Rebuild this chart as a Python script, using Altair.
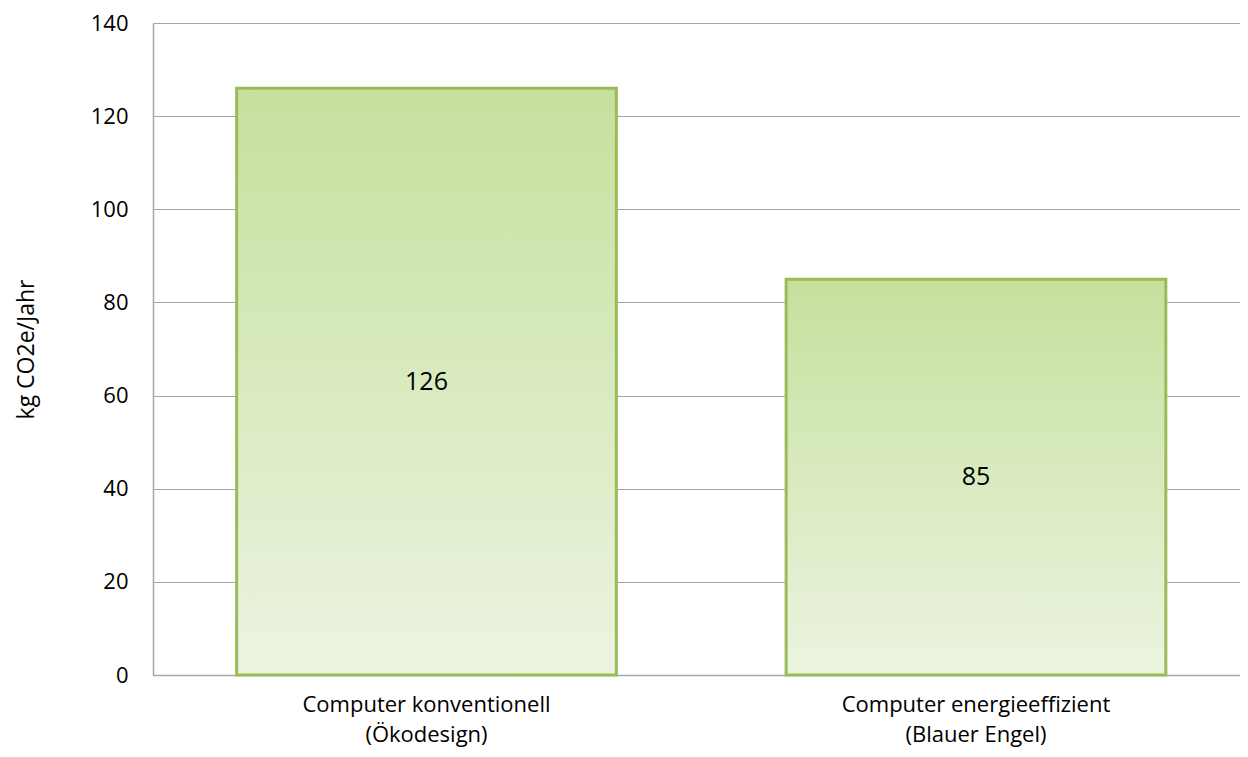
import altair as alt
import pandas as pd

categories = ["Computer konventionell\n(Ökodesign)", "Computer energieeffizient\n(Blauer Engel)"]
values = [126, 85]
y_ticks = [0, 20, 40, 60, 80, 100, 120, 140]

df = pd.DataFrame({"cat": categories, "val": values})

FONT = "Open Sans"

gradient = alt.LinearGradient(
    gradient="linear",
    stops=[alt.GradientStop(color="#C6E09D", offset=0),
           alt.GradientStop(color="#ECF4E1", offset=1)],
    x1=0, x2=0, y1=0, y2=1,
)

base = alt.Chart(df).encode(
    x=alt.X("cat:N", sort=categories, title=None,
            scale=alt.Scale(paddingInner=0.309, paddingOuter=0.1436, align=0.53),
            axis=alt.Axis(labelAngle=0, labelExpr="split(datum.label, '\\n')",
                          labelFont=FONT, labelFontSize=22, labelColor="#000000",
                          labelLineHeight=30, labelPadding=19, ticks=False,
                          labelLimit=600,
                          domainColor="#A6A6A6", domainWidth=1.5, grid=False)),
)

bars = base.mark_bar(fill=gradient, stroke="#9BBB59", strokeWidth=3).encode(
    y=alt.Y("val:Q", title="kg CO2e/Jahr",
            scale=alt.Scale(domain=[0, 140], nice=False),
            axis=alt.Axis(values=y_ticks, labelFont=FONT, labelFontSize=22,
                          labelColor="#000000", labelPadding=25, ticks=False,
                          domainColor="#A6A6A6", domainWidth=1.5,
                          gridColor="#A6A6A6", gridWidth=1,
                          titleFont=FONT, titleFontSize=23, titleFontWeight="normal",
                          titleColor="#000000", titlePadding=52)),
)

labels = base.mark_text(font=FONT, fontSize=25, color="#000000", baseline="middle").encode(
    y=alt.Y("mid:Q"),
    text=alt.Text("val:Q"),
).transform_calculate(mid="datum.val / 2")

chart = (bars + labels).properties(
    width=1087, height=652,
    autosize=alt.AutoSizeParams(type="none"),
    padding={"left": 145, "top": 15, "right": 0, "bottom": 74},
).configure_view(stroke=None)

chart.save("out.html", embed_options={"renderer": "svg", "actions": False})
